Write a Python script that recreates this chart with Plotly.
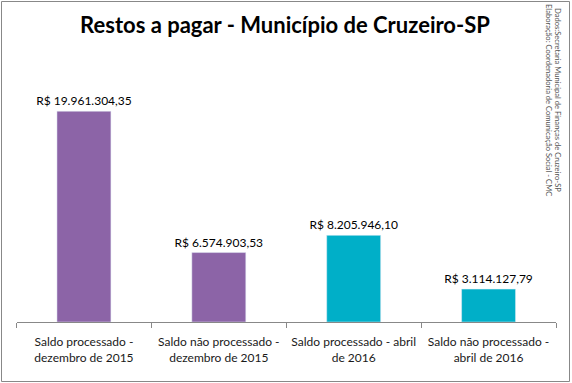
import plotly.graph_objects as go

categories = ["Saldo processado -<br>dezembro de 2015",
              "Saldo não processado -<br>dezembro de 2015",
              "Saldo processado - abril<br>de 2016",
              "Saldo não processado -<br>abril de 2016"]
values = [19961304.35, 6574903.53, 8205946.10, 3114127.79]
colors = ["#8C64A7", "#8C64A7", "#00AFC8", "#00AFC8"]

def brl(v):
    s = f"{v:,.2f}"
    s = s.replace(",", "X").replace(".", ",").replace("X", ".")
    return "R$ " + s

labels = [brl(v) for v in values]

W, H = 572, 383
x0p, x1p = 16.5, 556
yb, yt = 322, 58

fig = go.Figure(go.Bar(
    x=categories, y=values, marker_color=colors, width=0.4,
    text=labels, textposition="outside", cliponaxis=False, constraintext="none",
    textfont=dict(family="Lato, sans-serif", size=12, color="#000000"),
))

fig.update_layout(
    width=W, height=H, margin=dict(l=0, r=0, t=0, b=0),
    paper_bgcolor="white", plot_bgcolor="white", showlegend=False,
    xaxis=dict(domain=[x0p / W, x1p / W], showline=True, linecolor="#888888", linewidth=1,
               ticks="outside", tickson="boundaries", ticklen=5, tickcolor="#888888",
               ticklabelstandoff=9,
               tickfont=dict(family="Lato, sans-serif", size=12, color="#1a1a1a"),
               tickangle=0, showgrid=False, anchor="y"),
    yaxis=dict(domain=[(H - yb) / H, (H - yt) / H], range=[0, 25000000], visible=False,
               showgrid=False),
    title=dict(text="<b>Restos a pagar - Município de Cruzeiro-SP</b>",
               font=dict(family="Lato, sans-serif", size=22, color="#000000"),
               x=285 / W, xanchor="center", y=1 - 25 / H, yanchor="middle"),
    shapes=[dict(type="rect", xref="paper", yref="paper",
                 x0=1.5 / W, x1=(W - 2.5) / W, y0=1.5 / H, y1=(H - 1.5) / H,
                 line=dict(color="#888888", width=1), fillcolor="rgba(0,0,0,0)")],
    annotations=[
        dict(text="Dados:Secretaria Municipal de Finanças de Cruzeiro-SP",
             xref="paper", yref="paper", x=558 / W, y=1 - 100 / H,
             xanchor="center", yanchor="middle", textangle=90, showarrow=False,
             font=dict(family="Lato, sans-serif", size=7.6, color="#555555")),
        dict(text="Elaboração: Coordenadoria de Comunicação Social - CMC",
             xref="paper", yref="paper", x=549 / W, y=1 - 100 / H,
             xanchor="center", yanchor="middle", textangle=90, showarrow=False,
             font=dict(family="Lato, sans-serif", size=7.6, color="#555555")),
    ],
)

fig.write_html("out.html", post_script="document.body.style.margin='0';",
               config={"displayModeBar": False})
